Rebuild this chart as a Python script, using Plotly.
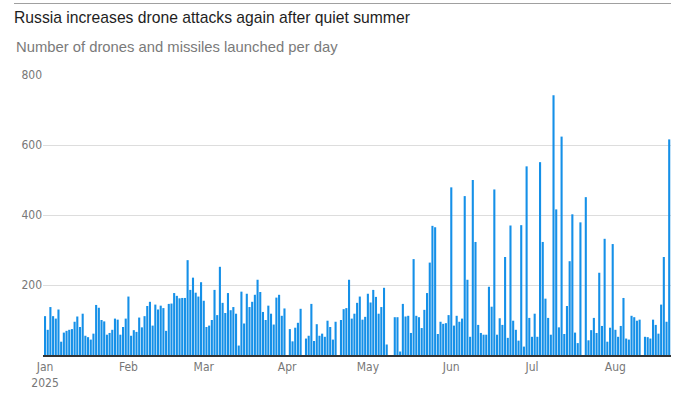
import pandas as pd
import plotly.graph_objects as go

start_date = "2025-01-01"
values = [
    111, 72, 137, 111, 104, 130, 38, 64, 69, 72, 74, 95, 110, 80, 118, 55, 51, 44, 61, 143,
    135, 100, 96, 58, 63, 72, 104, 101, 58, 80, 104, 167,
    55, 71, 66, 107, 79, 111, 140, 152, 84, 144, 130, 141, 134, 69, 146, 147, 177, 169,
    162, 163, 163, 271, 186, 221, 178, 167, 208, 155, 80, 84, 100, 186,
    114, 252, 149, 120, 177, 128, 137, 118, 27, 181, 90, 175, 137, 152, 172, 215, 180, 123,
    100, 141, 118, 87, 164, 172, 112, 133, 0, 74, 39, 78, 92, 132,
    0, 47, 55, 146, 40, 88, 55, 61, 52, 98, 80, 44, 95, 0, 100, 131, 134, 215, 104, 118,
    149, 167, 101, 109, 175, 150, 186, 166, 118, 137, 192,
    30, 0, 0, 108, 108, 10, 146, 110, 112, 63, 274, 112, 108, 77, 129, 177, 264, 369, 365, 60,
    95, 89, 91, 114, 479, 84, 112, 95, 104, 454, 215, 52,
    500, 323, 86, 63, 58, 58, 195, 138, 473, 58, 105, 86, 280, 49, 370, 98, 72, 41, 371, 24,
    539, 106, 52, 118, 52, 551, 323, 161, 106, 58, 742,
    416, 79, 624, 60, 140, 268, 402, 64, 34, 379, 0, 451, 42, 71, 106, 63, 235, 83, 332, 38,
    78, 317, 72, 52, 83, 163, 47, 44, 112, 108, 98, 101,
    0, 52, 51, 47, 101, 86, 61, 144, 280, 95, 616,
]
dates = pd.date_range(start_date, periods=len(values), freq="D")

month_ticks = ["2025-01-01", "2025-02-01", "2025-03-01", "2025-04-01",
               "2025-05-01", "2025-06-01", "2025-07-01", "2025-08-01"]
month_labels = ["Jan<br>2025", "Feb", "Mar", "Apr", "May", "Jun", "Jul", "Aug"]
y_ticks = [200, 400, 600, 800]

title_text = "Russia increases drone attacks again after quiet summer"
subtitle_text = "Number of drones and missiles launched per day"

W, H = 687, 397
L, R, T, B = 43, 16, 75, 42
pw = W - L - R
ph = H - T - B

fig = go.Figure(go.Bar(
    x=dates, y=values,
    marker=dict(color="#1590e8", line=dict(width=0)),
    hoverinfo="x+y",
))

narrow = "DejaVu Sans Condensed, Liberation Sans Narrow, Arial Narrow, Liberation Sans, sans-serif"
main_font = "Liberation Sans, Arial, sans-serif"

line_y = 1 + (T - 3.5) / ph

fig.update_layout(
    width=W, height=H,
    margin=dict(l=L, r=R, t=T, b=B, autoexpand=False),
    paper_bgcolor="white", plot_bgcolor="white",
    bargap=0.22,
    showlegend=False,
    title=dict(text=title_text, x=14 / W, xref="container", xanchor="left",
               y=1 - 18 / H, yref="container", yanchor="middle",
               font=dict(family=main_font, size=15.7, color="#1e1e1e")),
    annotations=[dict(text=subtitle_text, xref="paper", yref="paper",
                      x=(14 - L) / pw, y=1 + (T - 47) / ph,
                      xanchor="left", yanchor="middle", showarrow=False,
                      font=dict(family=main_font, size=14.8, color="#7a7a7a"))],
    shapes=[dict(type="line", xref="paper", yref="paper", layer="above",
                 x0=(14 - L) / pw, x1=1, y0=line_y, y1=line_y,
                 line=dict(color="#a0a0a0", width=1))],
    xaxis=dict(
        type="date", automargin=False,
        range=["2024-12-31 06:00", "2025-08-21 16:00"],
        tickvals=month_ticks, ticktext=month_labels,
        showgrid=False, ticks="", showline=True, linecolor="#333333", linewidth=1.5,
        tickfont=dict(family=narrow, size=12, color="#777777"),
        zeroline=False,
    ),
    yaxis=dict(
        range=[0, 800], tickvals=y_ticks, automargin=False,
        showgrid=True, gridcolor="#dddddd", gridwidth=1,
        zeroline=False, showline=False, ticks="",
        tickfont=dict(family=narrow, size=12, color="#777777"),
    ),
)

fig.write_html("out.html", config={"displayModeBar": False},
               post_script="document.body.style.margin='0';")
